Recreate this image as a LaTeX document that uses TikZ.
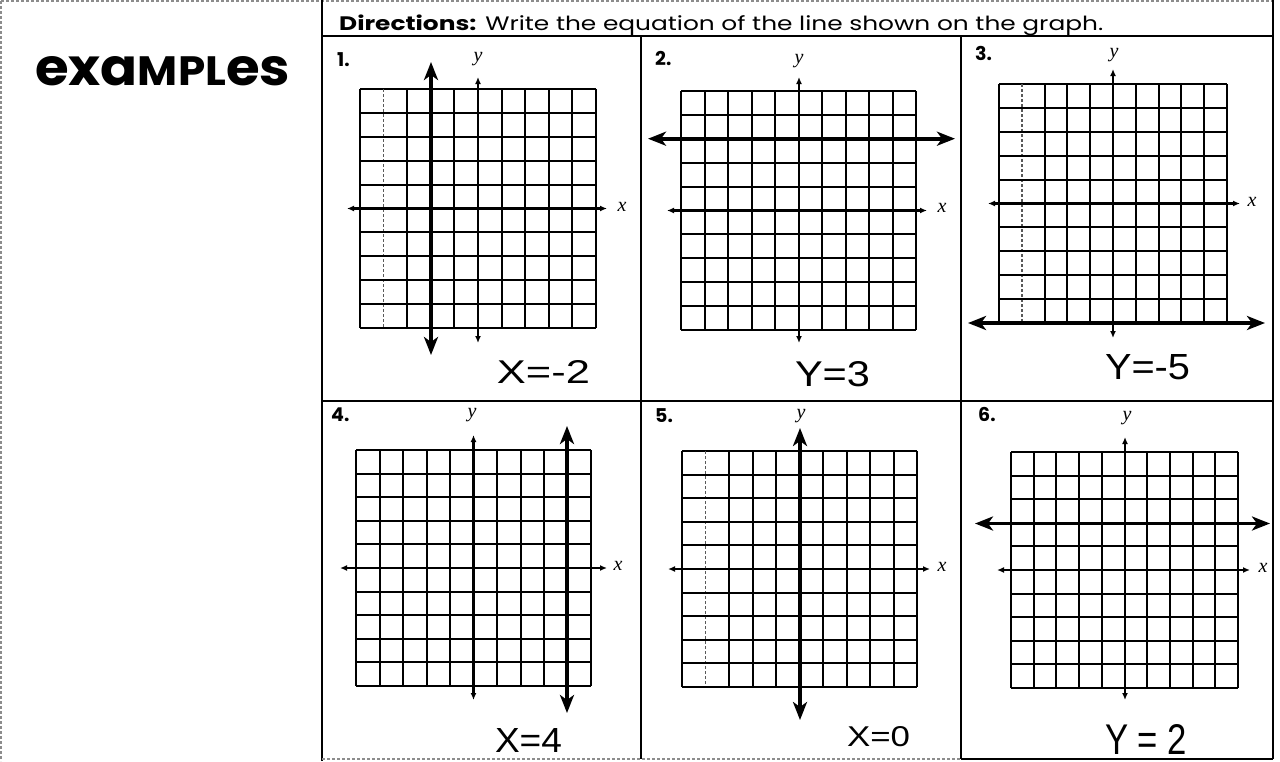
\documentclass[tikz,border=0pt]{standalone}
\usepackage{fontspec}
\setmainfont{Poppins}
\newfontfamily\handfont{Liberation Sans}
\newfontfamily\axfont{Liberation Serif}
\usetikzlibrary{arrows.meta}
\tikzset{
  gl/.style={line width=2pt, black},
  gld/.style={line width=1.5pt, black!65, densely dashed},
  axis/.style={line width=2.4pt, {Latex[length=7pt,width=6pt]}-{Latex[length=7pt,width=6pt]}},
  ans/.style={line width=3.6pt, {Stealth[length=18pt,width=14pt,inset=5pt]}-{Stealth[length=18pt,width=14pt,inset=5pt]}},
  frame/.style={line width=2pt, black},
  faint/.style={line width=1.2pt, black!45, densely dashed},
  num/.style={font=\fontsize{19}{19}\selectfont\bfseries, anchor=base west, inner sep=0pt},
  axl/.style={font=\axfont\itshape\fontsize{20}{20}\selectfont, inner sep=0pt},
  hw/.style={font=\handfont, inner sep=0pt}
}
\newcommand\gridbox[5]{%
  \foreach \i in {0,...,10}{%
    \pgfmathsetmacro\gx{#1+(#3-#1)*\i/10}%
    \pgfmathsetmacro\gy{#2+(#4-#2)*\i/10}%
    \draw[gl] (#1,\gy) -- (#3,\gy);
    \ifnum\i=#5\relax
      \draw[gld] (\gx,#2) -- (\gx,#4);
    \else
      \draw[gl] (\gx,#2) -- (\gx,#4);
    \fi
  }}
\begin{document}
\begin{tikzpicture}[x=1pt,y=-1pt]
\useasboundingbox (0,0) rectangle (1280,761);
\fill[white] (0,0) rectangle (1280,761);

% ---------- frame ----------
\coordinate (tl) at (1,1);
\coordinate (tr) at (1273,1);
\coordinate (bl) at (1,761);
\draw[faint] (tl) -- (tr);
\draw[faint] (tl) -- (bl);
\coordinate (c1t) at (322,0);  \coordinate (c1b) at (322,761);
\draw[frame] (c1t) -- (c1b);
\coordinate (rt) at (1273,0);  \coordinate (rb) at (1273,759);
\draw[frame] (rt) -- (rb);
\coordinate (hl) at (322,36);  \coordinate (hr) at (1273,36);
\draw[frame] (hl) -- (hr);
\coordinate (c2t) at (641,36); \coordinate (c2b) at (641,759);
\draw[frame] (c2t) -- (c2b);
\coordinate (c3t) at (961,36); \coordinate (c3b) at (961,759);
\draw[frame] (c3t) -- (c3b);
\coordinate (rl) at (322,401); \coordinate (rr) at (1273,401);
\draw[frame] (rl) -- (rr);
\coordinate (bm1) at (322,759); \coordinate (bm2) at (961,759);
\draw[faint] (bm1) -- (bm2);
\draw[frame] (bm2) -- (rb);

% ---------- headings ----------
\node[anchor=base west, inner sep=0pt] (dir) at (339,30)
  {\resizebox{764pt}{\height}{\fontsize{19.5}{19.5}\selectfont\textbf{Directions:} Write the equation of the line shown on the graph.}};
\node[anchor=south west, inner sep=0pt] (ex) at (35,86)
  {\resizebox{255pt}{29pt}{\bfseries exa\scalebox{0.8}{MPL}es}};

% ---------- panel 1 ----------
\node[num] (n1) at (337,66) {1.};
\gridbox{360}{89}{596}{328}{1}
\coordinate (a1t) at (478,77);  \coordinate (a1b) at (478,343);
\coordinate (a1l) at (347,208.5); \coordinate (a1r) at (607,208.5);
\draw[axis] (a1t) -- (a1b);
\draw[axis] (a1l) -- (a1r);
\node[axl] (y1) at (478,59) {y};
\node[axl] (x1) at (622,207) {x};
\coordinate (l1t) at (431,62); \coordinate (l1b) at (431,355);
\draw[ans] (l1t) -- (l1b);
\node[hw] (e1) at (543.5,371.5) {\resizebox{93pt}{23pt}{X=-2}};

% ---------- panel 2 ----------
\node[num] (n2) at (655,65) {2.};
\gridbox{681}{91}{916}{330}{99}
\coordinate (a2t) at (799,77);  \coordinate (a2b) at (799,343);
\coordinate (a2l) at (667,210.5); \coordinate (a2r) at (927,210.5);
\draw[axis] (a2t) -- (a2b);
\draw[axis] (a2l) -- (a2r);
\node[axl] (y2) at (799,61) {y};
\node[axl] (x2) at (942,208) {x};
\coordinate (l2l) at (648,138.7); \coordinate (l2r) at (955,138.7);
\draw[ans] (l2l) -- (l2r);
\node[hw] (e2) at (832.5,374.5) {\resizebox{75pt}{25pt}{Y=3}};

% ---------- panel 3 ----------
\node[num] (n3) at (975,60) {3.};
\gridbox{999}{84}{1227}{323}{1}
\coordinate (a3t) at (1113,69);  \coordinate (a3b) at (1113,338);
\coordinate (a3l) at (988,203.5); \coordinate (a3r) at (1240,203.5);
\draw[axis] (a3t) -- (a3b);
\draw[axis] (a3l) -- (a3r);
\node[axl] (y3) at (1114,55) {y};
\node[axl] (x3) at (1252,202) {x};
\coordinate (l3l) at (968,323); \coordinate (l3r) at (1265,323);
\draw[ans] (l3l) -- (l3r);
\node[hw] (e3) at (1147.5,367.5) {\resizebox{85pt}{25pt}{Y=-5}};

% ---------- panel 4 ----------
\node[num] (n4) at (331,421) {4.};
\gridbox{356}{450}{591}{686}{99}
\coordinate (a4t) at (473.5,435);  \coordinate (a4b) at (473.5,700);
\coordinate (a4l) at (340,568); \coordinate (a4r) at (607,568);
\draw[axis] (a4t) -- (a4b);
\draw[axis] (a4l) -- (a4r);
\node[axl] (y4) at (472,415) {y};
\node[axl] (x4) at (618,566) {x};
\coordinate (l4t) at (567,426); \coordinate (l4b) at (567,713);
\draw[ans] (l4t) -- (l4b);
\node[hw] (e4) at (528.5,740) {\resizebox{67pt}{24pt}{X=4}};

% ---------- panel 5 ----------
\node[num] (n5) at (655,422) {5.};
\gridbox{682}{451}{917}{687}{1}
\coordinate (a5l) at (668,569); \coordinate (a5r) at (930,569);
\draw[axis] (a5l) -- (a5r);
\node[axl] (y5) at (801,416) {y};
\node[axl] (x5) at (942,567) {x};
\coordinate (l5t) at (800,428); \coordinate (l5b) at (800,720);
\draw[ans] (l5t) -- (l5b);
\node[hw] (e5) at (878.5,737) {\resizebox{63pt}{20pt}{X=0}};

% ---------- panel 6 ----------
\node[num] (n6) at (978,421) {6.};
\gridbox{1011}{452}{1238}{688}{99}
\coordinate (a6t) at (1125,437);  \coordinate (a6b) at (1125,700);
\coordinate (a6l) at (997,570); \coordinate (a6r) at (1250,570);
\draw[axis] (a6t) -- (a6b);
\draw[axis] (a6l) -- (a6r);
\node[axl] (y6) at (1127,418) {y};
\node[axl] (x6) at (1263,568) {x};
\coordinate (l6l) at (975,523.5); \coordinate (l6r) at (1270,523.5);
\draw[ans] (l6l) -- (l6r);
\node[hw] (e6) at (1146,739) {\resizebox{82pt}{30pt}{Y = 2}};
\end{tikzpicture}
\end{document}
